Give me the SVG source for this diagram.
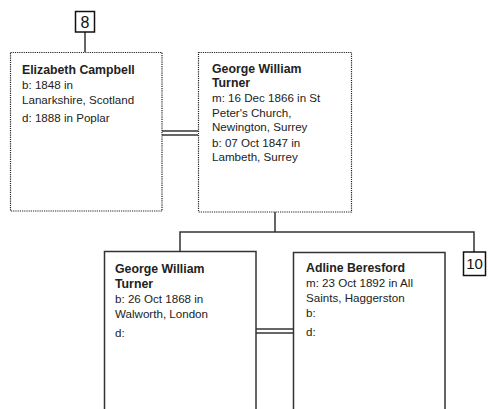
<svg xmlns="http://www.w3.org/2000/svg" width="488" height="409" viewBox="0 0 488 409">
<style>
.dot{fill:#fff;stroke:#222;stroke-width:1.2;stroke-dasharray:1.2 1}
.sol{fill:#fff;stroke:#333;stroke-width:1.5}
.ref{fill:#fff;stroke:#111;stroke-width:1.5}
.ln{stroke:#333;stroke-width:1.5;fill:none}
text{font-family:"Liberation Sans",Arial,sans-serif;fill:#222;font-size:11.6px}
.b{font-weight:bold;font-size:12.3px}
.num{font-size:15px;fill:#111;text-anchor:middle}
</style>
<g id="connectors">
<line class="ln" x1="85" y1="32" x2="85" y2="52"/>
<line class="ln" x1="162" y1="131" x2="198" y2="131"/>
<line class="ln" x1="162" y1="135" x2="198" y2="135"/>
<polyline class="ln" points="275,212 275,232"/>
<polyline class="ln" points="180,251 180,232 474,232 474,252"/>
<line class="ln" x1="256" y1="329" x2="293" y2="329"/>
<line class="ln" x1="256" y1="333" x2="293" y2="333"/>
</g>
<g id="ref8">
<rect class="ref" x="75.5" y="11.5" width="19" height="20.5"/>
<text class="num" x="85" y="27.5" style="font-size:16px">8</text>
</g>
<g id="ref10">
<rect class="ref" x="463.5" y="252" width="22" height="23.5"/>
<text class="num" x="474.5" y="269">10</text>
</g>
<g id="elizabeth">
<rect class="dot" x="10.5" y="52.5" width="151.5" height="158.5"/>
<text class="b" x="22" y="74">Elizabeth Campbell</text>
<text x="22" y="89">b: 1848 in</text>
<text x="22" y="104">Lanarkshire, Scotland</text>
<text x="22" y="122">d: 1888 in Poplar</text>
</g>
<g id="george-sr">
<rect class="dot" x="198.5" y="52.5" width="153" height="159.5"/>
<text class="b" x="212" y="73">George William</text>
<text class="b" x="212" y="87">Turner</text>
<text x="212" y="102">m: 16 Dec 1866 in St</text>
<text x="212" y="117">Peter's Church,</text>
<text x="212" y="131">Newington, Surrey</text>
<text x="212" y="147">b: 07 Oct 1847 in</text>
<text x="212" y="161">Lambeth, Surrey</text>
</g>
<g id="george-jr">
<rect class="sol" x="104.5" y="251.5" width="151.5" height="170"/>
<text class="b" x="115" y="273">George William</text>
<text class="b" x="115" y="288">Turner</text>
<text x="115" y="303">b: 26 Oct 1868 in</text>
<text x="115" y="318">Walworth, London</text>
<text x="115" y="337">d:</text>
</g>
<g id="adline">
<rect class="sol" x="293.5" y="252.5" width="151.5" height="170"/>
<text class="b" x="306" y="272">Adline Beresford</text>
<text x="306" y="287">m: 23 Oct 1892 in All</text>
<text x="306" y="302">Saints, Haggerston</text>
<text x="306" y="317">b:</text>
<text x="306" y="336">d:</text>
</g>
</svg>
